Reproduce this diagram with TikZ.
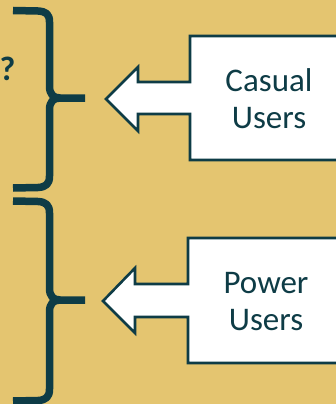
\documentclass[tikz,border=0pt]{standalone}
\usepackage{fontspec}
\setmainfont{Carlito}
\definecolor{gold}{RGB}{228,197,112}
\definecolor{ink}{RGB}{14,60,70}
\tikzset{
  bracestroke/.style={draw=ink, line width=7.5, line cap=butt, line join=round},
  callout/.style={draw=ink, fill=white, line width=2.6, line join=miter},
  label/.style={text=ink, font=\fontsize{33}{37}\selectfont, align=center, inner sep=0},
}
\begin{document}
\begin{tikzpicture}[x=1pt,y=-1pt]
\useasboundingbox (0,0) rectangle (336,404);
\clip (0,0) rectangle (336,404);
\fill[gold] (0,0) rectangle (336,404);

% upper brace
\draw[bracestroke] (13,10.5) -- (38,11) .. controls (46,11.5) and (49.5,14) .. (49.5,22)
  -- (49.5,86) .. controls (49.5,94) and (53,98) .. (60,98) -- (85,98);
\draw[bracestroke] (60,98) .. controls (53,98) and (49.5,102) .. (49.5,110)
  -- (49.5,176) .. controls (49.5,184) and (46,187) .. (38,187.5) -- (13,188);

% lower brace
\draw[bracestroke] (13,201) -- (38,201.5) .. controls (46,202) and (49.5,205) .. (49.5,213)
  -- (49.5,288) .. controls (49.5,296) and (53,300) .. (60,300) -- (85,300);
\draw[bracestroke] (60,300) .. controls (53,300) and (49.5,304) .. (49.5,312)
  -- (49.5,389) .. controls (49.5,397) and (46,400) .. (38,400.5) -- (13,401);

% question mark at the left edge
\node[text=ink, font=\fontsize{34}{40}\bfseries\selectfont, anchor=base, inner sep=0] (q) at (7.5,80) {?};

% callout pointing to the upper brace
\draw[callout] (345,36) -- (190,36) -- (190,82) -- (138,82) -- (138,67) -- (106,99)
  -- (138,131) -- (138,114) -- (190,114) -- (190,160) -- (345,160);
\node[label, anchor=base] (casual) at (269,92) {Casual};
\node[label, anchor=base] (casualusers) at (269,128) {Users};

% callout pointing to the lower brace
\draw[callout] (345,238) -- (188,238) -- (188,284) -- (135,284) -- (135,268) -- (103,301)
  -- (135,333) -- (135,317) -- (188,317) -- (188,363) -- (345,363);
\node[label, anchor=base] (power) at (266,293) {Power};
\node[label, anchor=base] (powerusers) at (266,330) {Users};
\end{tikzpicture}
\end{document}
